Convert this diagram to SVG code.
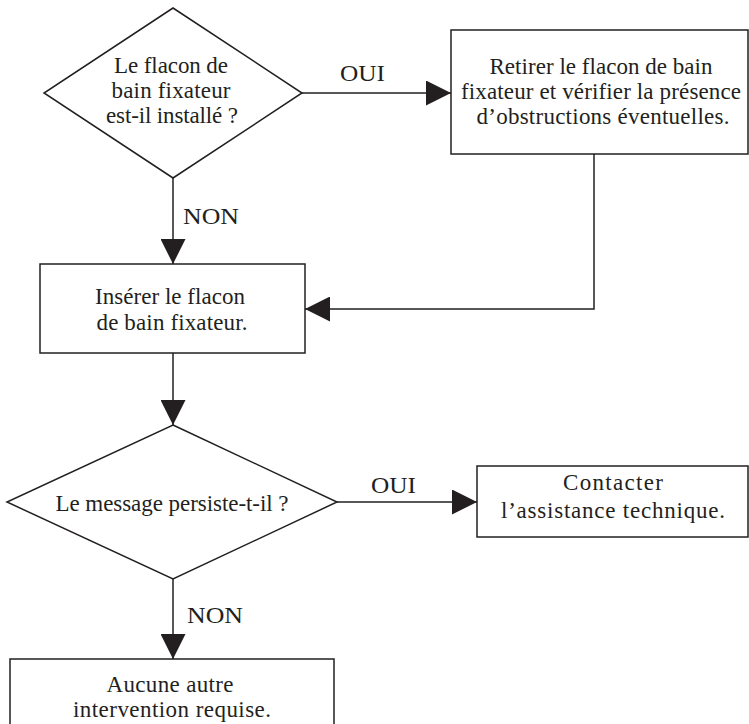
<svg xmlns="http://www.w3.org/2000/svg" width="749" height="724" viewBox="0 0 749 724">
<style>
.s{fill:#fff;stroke:#231f20;stroke-width:1.5}
.c{fill:none;stroke:#231f20;stroke-width:1.5}
text{font-family:"Liberation Serif","Times New Roman",serif;font-size:23px;fill:#231f20}
.m{text-anchor:middle}
</style>
<defs>
<marker id="ah" viewBox="0 0 25 25" refX="25" refY="12.5" markerWidth="25" markerHeight="25" markerUnits="userSpaceOnUse" orient="auto">
<path d="M0,0 L25,12.5 L0,25 Z" fill="#231f20"/>
</marker>
</defs>
<rect width="749" height="724" fill="#fff"/>
<g id="connectors">
<path class="c" d="M302,93 H451" marker-end="url(#ah)"/>
<path class="c" d="M173,178 V264" marker-end="url(#ah)"/>
<path class="c" d="M594,154 V309 H305" marker-end="url(#ah)"/>
<path class="c" d="M173,353 V425" marker-end="url(#ah)"/>
<path class="c" d="M337,502 H477" marker-end="url(#ah)"/>
<path class="c" d="M173,579 V659" marker-end="url(#ah)"/>
<text x="340" y="81" textLength="45" lengthAdjust="spacingAndGlyphs">OUI</text>
<text x="183" y="224" textLength="56" lengthAdjust="spacingAndGlyphs">NON</text>
<text x="371" y="493" textLength="45" lengthAdjust="spacingAndGlyphs">OUI</text>
<text x="187" y="623" textLength="56" lengthAdjust="spacingAndGlyphs">NON</text>
</g>
<g id="q1">
<polygon class="s" points="173,8 302,93 173,178 44,93"/>
<text class="m" x="171" y="73" textLength="114">Le flacon de</text>
<text class="m" x="171" y="98" textLength="119">bain fixateur</text>
<text class="m" x="172" y="123" textLength="132">est-il installé ?</text>
</g>
<g id="retirer">
<rect class="s" x="451" y="30" width="297" height="124"/>
<text class="m" x="601" y="74" textLength="223">Retirer le flacon de bain</text>
<text class="m" x="601" y="99" textLength="280">fixateur et vérifier la présence</text>
<text class="m" x="603" y="124" textLength="253">d’obstructions éventuelles.</text>
</g>
<g id="inserer">
<rect class="s" x="40" y="264" width="265" height="89"/>
<text class="m" x="170" y="304" textLength="150">Insérer le flacon</text>
<text class="m" x="172" y="330" textLength="151">de bain fixateur.</text>
</g>
<g id="q2">
<polygon class="s" points="173,425 337,502 173,579 7,502"/>
<text class="m" x="172" y="511" textLength="233">Le message persiste-t-il ?</text>
</g>
<g id="contacter">
<rect class="s" x="477" y="466" width="271" height="71"/>
<text class="m" x="613" y="490" textLength="100">Contacter</text>
<text class="m" x="613" y="518" textLength="224">l’assistance technique.</text>
</g>
<g id="aucune">
<rect class="s" x="10" y="659" width="324" height="90"/>
<text class="m" x="170" y="692" textLength="127">Aucune autre</text>
<text class="m" x="172" y="717" textLength="198">intervention requise.</text>
</g>
</svg>
